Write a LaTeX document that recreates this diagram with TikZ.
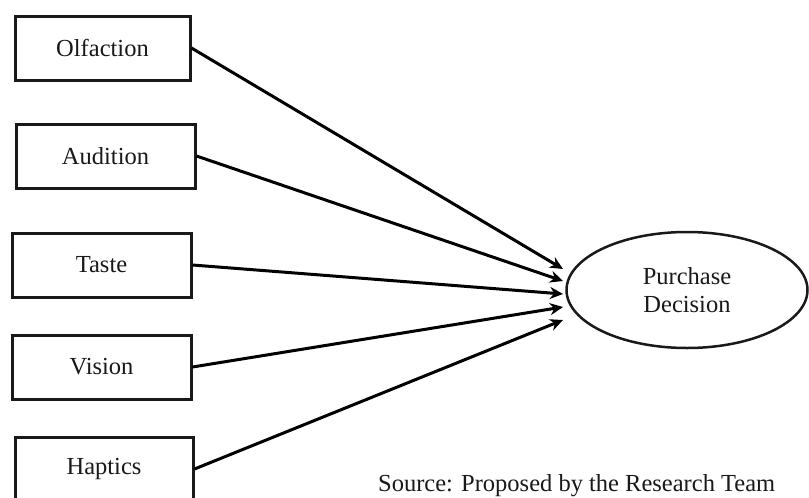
\documentclass[tikz,border=0pt]{standalone}
\usepackage{fontspec}
\setmainfont{Liberation Serif}
\usetikzlibrary{arrows.meta,shapes.geometric}
\begin{document}
\begin{tikzpicture}[x=1pt,y=-1pt,
  sense/.style={draw=black!90, line width=3pt, fill=white, inner sep=0pt, font=\fontsize{24.5}{28}\selectfont, text=black!90},
  conn/.style={line width=3pt, -{Stealth[length=13pt,width=12pt]}}]
\useasboundingbox (0,0) rectangle (809,498);
\node[sense, minimum width=175pt, minimum height=64pt] (olf) at (102.5,48) {Olfaction};
\node[sense, minimum width=179pt, minimum height=64pt] (aud) at (105.5,156) {Audition};
\node[sense, minimum width=179pt, minimum height=64pt] (tas) at (101.5,265) {Taste};
\node[sense, minimum width=179pt, minimum height=64pt] (vis) at (101.5,367) {Vision};
\node[sense, minimum width=178pt, minimum height=64pt] (hap) at (104,469) {Haptics};
\node[draw=black!90, line width=2.5pt, ellipse, minimum width=241pt, minimum height=116pt, inner sep=0pt, align=center, font=\fontsize{24.5}{28}\selectfont, text=black!90] (pd) at (687,290) {Purchase\\Decision};
\coordinate (t1) at (563,269);
\coordinate (t2) at (563,281);
\coordinate (t3) at (563,294);
\coordinate (t4) at (563,307);
\coordinate (t5) at (563,320);
\draw[conn] (olf.east) -- (t1);
\draw[conn] (aud.east) -- (t2);
\draw[conn] (tas.east) -- (t3);
\draw[conn] (vis.east) -- (t4);
\draw[conn] (hap.east) -- (t5);
\node[font=\fontsize{24.5}{28}\selectfont, text=black!90, inner sep=0pt, anchor=base west] (src) at (378,491) {Source: Proposed by the Research Team};
\end{tikzpicture}
\end{document}
